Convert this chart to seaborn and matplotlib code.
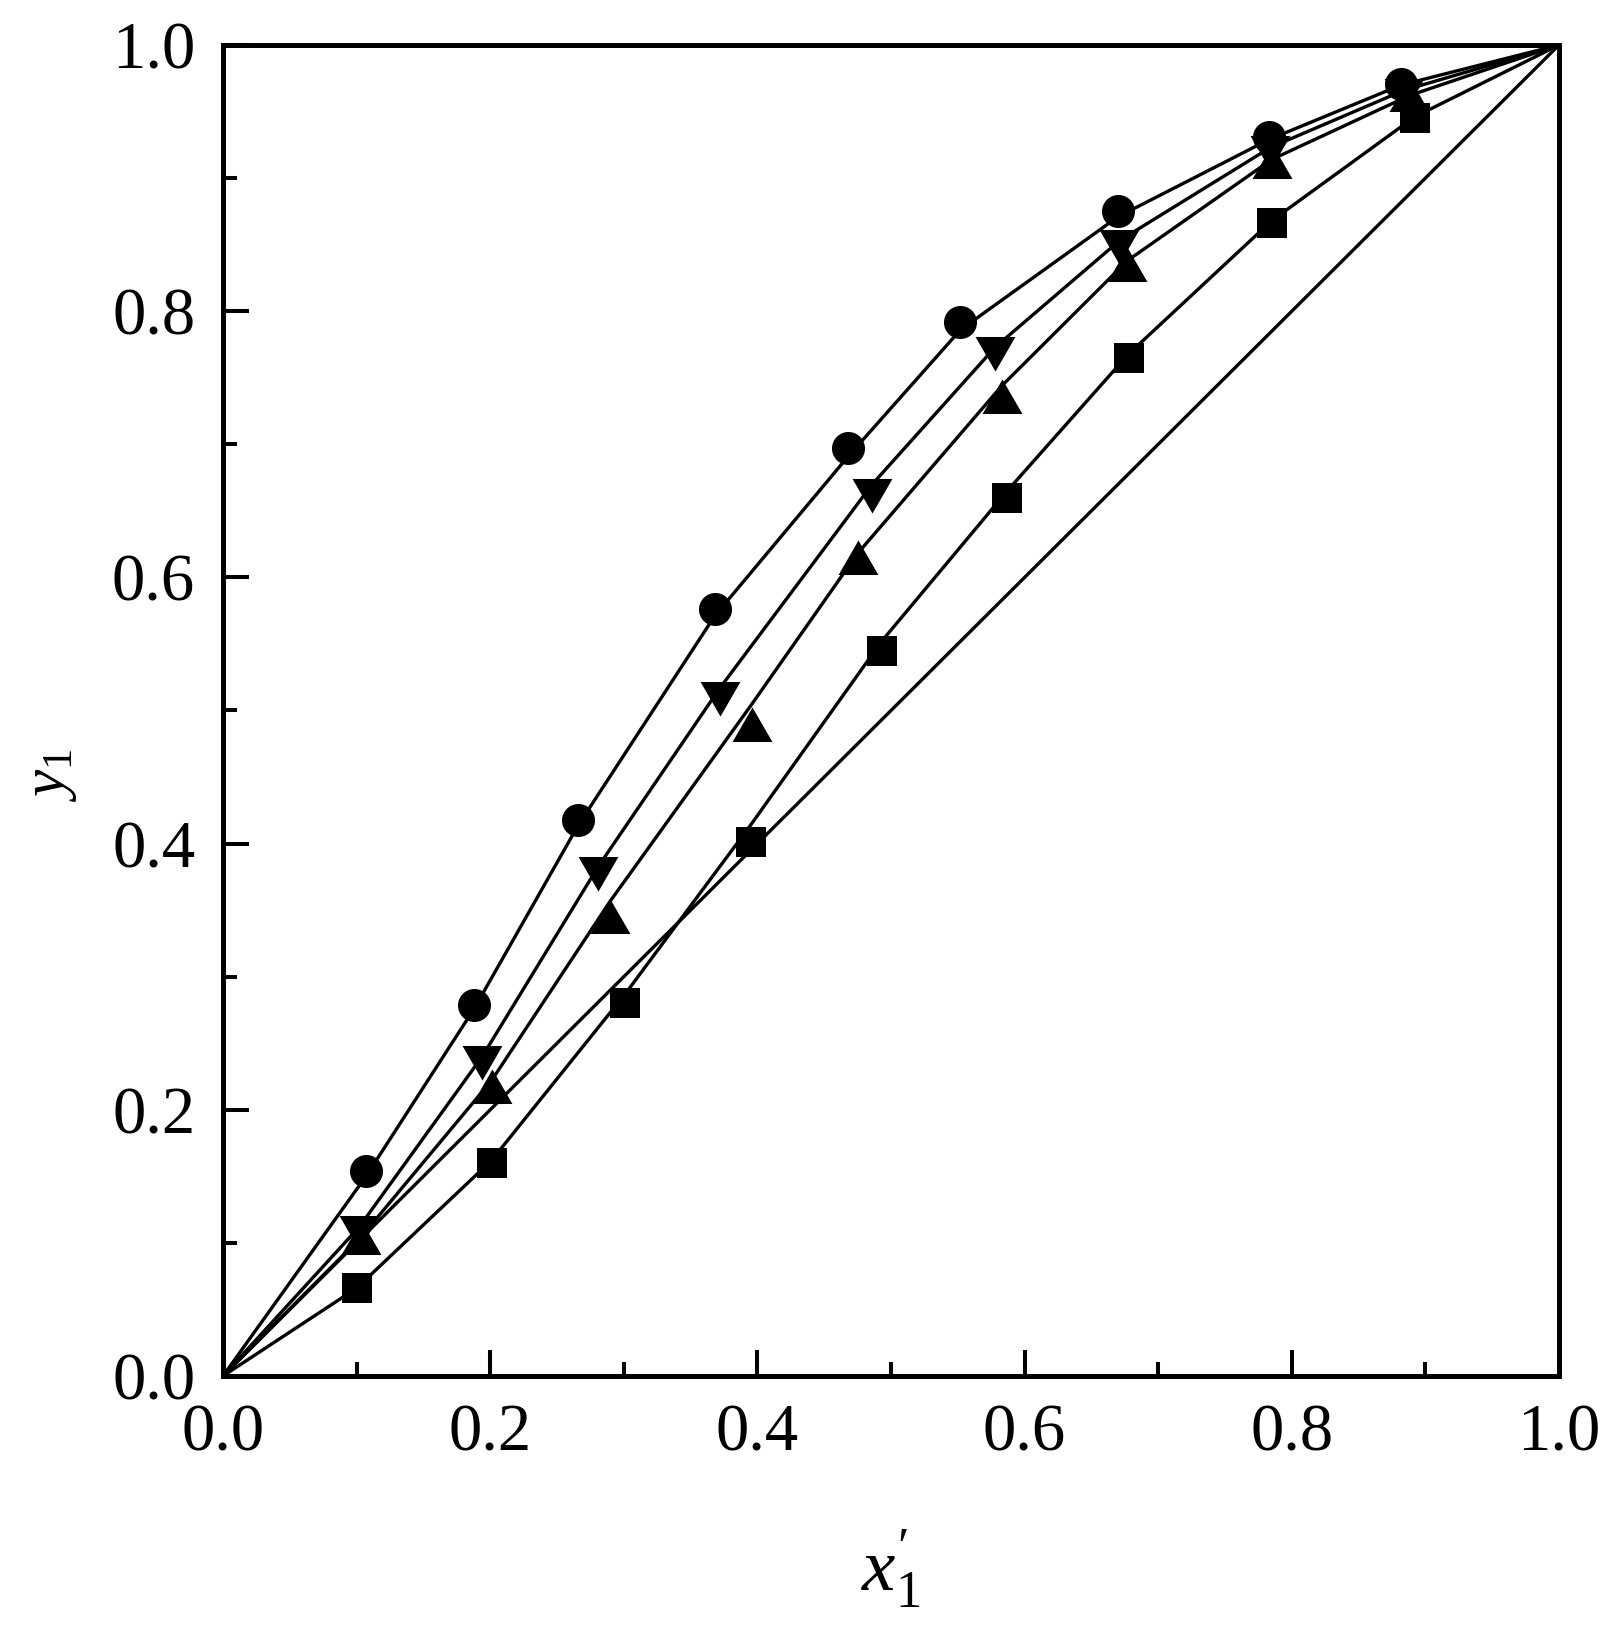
import numpy as np
import pandas as pd
import seaborn as sns
import matplotlib.pyplot as plt
from matplotlib.ticker import MultipleLocator, FormatStrFormatter

x_circle = [0.107, 0.188, 0.266, 0.368, 0.468, 0.552, 0.670, 0.783, 0.882]
y_circle = [0.154, 0.279, 0.418, 0.576, 0.697, 0.792, 0.875, 0.931, 0.971]

x_down = [0.102, 0.194, 0.281, 0.372, 0.486, 0.578, 0.671, 0.784, 0.884]
y_down = [0.112, 0.240, 0.382, 0.513, 0.666, 0.772, 0.853, 0.923, 0.966]

x_up = [0.103, 0.201, 0.290, 0.396, 0.475, 0.583, 0.677, 0.785, 0.888]
y_up = [0.100, 0.213, 0.341, 0.485, 0.611, 0.732, 0.831, 0.908, 0.959]

x_square = [0.100, 0.201, 0.301, 0.395, 0.493, 0.587, 0.678, 0.785, 0.892]
y_square = [0.066, 0.160, 0.280, 0.401, 0.545, 0.660, 0.765, 0.866, 0.945]

# calculated curves, same x plus the two end points
yc_circle = [0.0, 0.150, 0.276, 0.414, 0.571, 0.691, 0.786, 0.871, 0.929, 0.970, 1.0]
yc_down = [0.0, 0.112, 0.240, 0.383, 0.517, 0.670, 0.773, 0.853, 0.923, 0.966, 1.0]
yc_up = [0.0, 0.104, 0.222, 0.357, 0.505, 0.618, 0.744, 0.838, 0.914, 0.962, 1.0]
yc_square = [0.0, 0.066, 0.162, 0.287, 0.414, 0.552, 0.665, 0.768, 0.868, 0.946, 1.0]

x_diag = [0.0, 1.0]
y_diag = [0.0, 1.0]

series = [
    ("circle", x_circle, y_circle, yc_circle, "o", 566),
    ("down", x_down, y_down, yc_down, (3, 0, 180), 1100),
    ("up", x_up, y_up, yc_up, (3, 0, 0), 1100),
    ("square", x_square, y_square, yc_square, "s", 441),
]

sns.set_style("white")
plt.rcParams['font.family'] = ['Liberation Serif', 'DejaVu Serif']
plt.rcParams['mathtext.fontset'] = 'custom'
plt.rcParams['mathtext.rm'] = 'Liberation Serif'
plt.rcParams['mathtext.it'] = 'Liberation Serif:italic'
plt.rcParams['text.color'] = 'black'
plt.rcParams['axes.labelcolor'] = 'black'
plt.rcParams['xtick.color'] = 'black'
plt.rcParams['ytick.color'] = 'black'

fig = plt.figure(figsize=(16.12, 16.38), dpi=100)
ax = fig.add_axes([223 / 1612, 1 - 1376 / 1638, 1336 / 1612, 1331 / 1638])

# diagonal y = x
sns.lineplot(x=x_diag, y=y_diag, ax=ax, color="black", linewidth=2.4,
             sort=False, estimator=None)

for name, xs, ys, ycs, mk, s in series:
    xc = [0.0] + xs + [1.0]
    sns.lineplot(x=xc, y=ycs, ax=ax, color="black", linewidth=2.4,
                 sort=False, estimator=None)
    df = pd.DataFrame({"x": xs, "y": ys})
    sns.scatterplot(data=df, x="x", y="y", ax=ax, marker=mk, s=s,
                    color="black", edgecolor="black", linewidth=0,
                    zorder=3, legend=False)

ax.set_xlim(0, 1)
ax.set_ylim(0, 1)
ax.xaxis.set_major_locator(MultipleLocator(0.2))
ax.xaxis.set_minor_locator(MultipleLocator(0.1))
ax.yaxis.set_major_locator(MultipleLocator(0.2))
ax.yaxis.set_minor_locator(MultipleLocator(0.1))
ax.xaxis.set_major_formatter(FormatStrFormatter('%.1f'))
ax.yaxis.set_major_formatter(FormatStrFormatter('%.1f'))

ax.tick_params(which='both', direction='in', top=False, right=False,
               bottom=True, left=True, color='black', labelcolor='black',
               labelsize=48)
ax.tick_params(which='major', length=18.7, width=2.9, pad=20)
ax.tick_params(which='minor', length=10, width=2.9)

for sp in ax.spines.values():
    sp.set_linewidth(3.6)
    sp.set_color('black')
    sp.set_visible(True)

ax.set_xlabel(r"$x_{1}^{\prime}$", fontsize=54, color='black')
ax.set_ylabel(r"$y_{1}$", fontsize=44, color='black')
ax.xaxis.set_label_coords(0.5, -0.114)
ax.yaxis.set_label_coords(-0.108, 0.4515)

fig.savefig("out.png", dpi=100)
